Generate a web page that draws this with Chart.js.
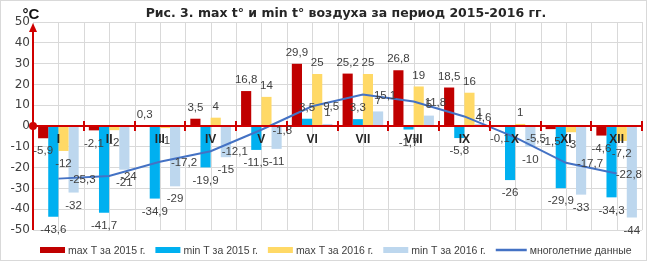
<!DOCTYPE html>
<html><head><meta charset="utf-8">
<script src="https://cdn.jsdelivr.net/npm/chart.js@4.4.1/dist/chart.umd.min.js"></script>
<style>html,body{margin:0;padding:0;background:#fff}#wrap{width:647px;height:261px;position:relative}</style>
</head><body><div id="wrap"><canvas id="c" width="647" height="261"></canvas></div>
<script>
const months = ['I','II','III','IV','V','VI','VII','VIII','IX','X','XI','XII'];
const max2015 = [-5.9, -2.1, 0.3, 3.5, 16.8, 29.9, 25.2, 26.8, 18.5, -0.1, -1.5, -4.6];
const min2015 = [-43.6, -41.7, -34.9, -19.9, -11.5, 3.5, 3.3, -1.7, -5.8, -26, -29.9, -34.3];
const max2016 = [-12, -2, -1, 4, 14, 25, 25, 19, 16, 1, -3, -7.2];
const min2016 = [-32, -21, -29, -15, -11, 1, 7, 5, 1, -10, -33, -44];
const longTerm = [-25.3, -24, -17.2, -12.1, -1.8, 9.5, 15.1, 11.8, 4.6, -5.5, -17.7, -22.8];
const yMin = -50, yMax = 50, yStep = 5;
const seriesNames = ['max T за 2015 г.', 'min T за 2015 г.', 'max T за 2016 г.', 'min T за 2016 г.', 'многолетние данные'];
const titleText = 'Рис. 3. max t° и min t° воздуха за период 2015-2016 гг.';
const unitText = '°C';

const colors = ['#C00000', '#00B0F0', '#FFD966', '#BDD7EE', '#4472C4'];
const fmt = v => String(v).replace('.', ',');
const LABEL_FONT = '11.5px "Liberation Sans", Arial, sans-serif';

const decor = {
  id: 'decor',
  beforeDatasetsDraw(chart) {
    const {ctx, chartArea: ca, scales: {x}} = chart;
    const cw = x.getPixelForValue(1) - x.getPixelForValue(0);
    ctx.save();
    ctx.strokeStyle = '#D9D9D9';
    ctx.lineWidth = 1;
    for (let i = 0; i < months.length; i++) {
      const cx = x.getPixelForValue(i);
      [cx - cw / 2, cx, cx + cw / 2].forEach(px => {
        const xx = Math.round(px) + 0.5;
        ctx.beginPath(); ctx.moveTo(xx, ca.top); ctx.lineTo(xx, ca.bottom); ctx.stroke();
      });
    }
    ctx.restore();
  },
  afterDatasetsDraw(chart) {
    const {ctx, chartArea: ca, scales: {x, y}} = chart;
    const cw = x.getPixelForValue(1) - x.getPixelForValue(0);
    const y0 = y.getPixelForValue(0);
    ctx.save();
    ctx.strokeStyle = '#D00000';
    ctx.fillStyle = '#D00000';
    ctx.lineWidth = 2;
    ctx.beginPath(); ctx.moveTo(ca.left, y0); ctx.lineTo(ca.right, y0); ctx.stroke();
    for (let i = 1; i <= months.length; i++) {
      const bx = Math.round(x.getPixelForValue(0) - cw / 2 + i * cw);
      ctx.beginPath(); ctx.moveTo(bx, y0 - 5); ctx.lineTo(bx, y0 + 5); ctx.stroke();
    }
    ctx.beginPath(); ctx.moveTo(ca.left, ca.bottom); ctx.lineTo(ca.left, ca.top + 6); ctx.stroke();
    ctx.beginPath();
    ctx.moveTo(ca.left, ca.top + 1);
    ctx.lineTo(ca.left - 4, ca.top + 10);
    ctx.lineTo(ca.left + 4, ca.top + 10);
    ctx.closePath(); ctx.fill();
    ctx.beginPath(); ctx.arc(ca.left, y0, 4, 0, Math.PI * 2); ctx.fill();

    ctx.fillStyle = '#262626';
    ctx.font = 'bold 12px "Liberation Sans", Arial, sans-serif';
    ctx.textAlign = 'center'; ctx.textBaseline = 'middle';
    months.forEach((m, i) => ctx.fillText(m, x.getPixelForValue(i), y0 + 14));

    ctx.font = LABEL_FONT;
    ctx.fillStyle = '#404040';
    chart.data.datasets.forEach((ds, di) => {
      const meta = chart.getDatasetMeta(di);
      meta.data.forEach((el, i) => {
        const v = ds.data[i];
        const t = fmt(v);
        if (ds.type === 'line') {
          ctx.textAlign = 'left';
          let tx = el.x + 11;
          const w = ctx.measureText(t).width;
          if (tx + w > chart.width - 5) tx = chart.width - 5 - w;
          ctx.fillText(t, tx, el.y + 1);
        } else {
          ctx.textAlign = 'center';
          ctx.fillText(t, el.x, v >= 0 ? el.y - 11 : el.y + 13);
        }
      });
    });
    ctx.restore();
  },
  afterDraw(chart) {
    const {ctx} = chart;
    ctx.save();
    ctx.fillStyle = '#262626';
    ctx.font = 'bold 12.5px "DejaVu Sans", sans-serif';
    ctx.textAlign = 'center'; ctx.textBaseline = 'middle';
    ctx.fillText(titleText, 346, 14);
    ctx.font = 'bold 15px "Liberation Sans", Arial, sans-serif';
    ctx.fillStyle = '#111';
    ctx.fillText(unitText, 31, 15);
    ctx.font = '10.5px "Liberation Sans", Arial, sans-serif';
    ctx.textAlign = 'left';
    let lx = 40;
    const ly = 250;
    chart.data.datasets.forEach((ds, di) => {
      if (ds.type === 'line') {
        ctx.strokeStyle = ds.borderColor; ctx.lineWidth = 2.5;
        ctx.beginPath(); ctx.moveTo(lx, ly); ctx.lineTo(lx + 31, ly); ctx.stroke();
        lx += 34;
      } else {
        ctx.fillStyle = ds.backgroundColor;
        ctx.fillRect(lx, ly - 3, 25, 6);
        lx += 28;
      }
      ctx.fillStyle = '#404040';
      ctx.fillText(ds.label, lx, ly + 1);
      lx += ctx.measureText(ds.label).width + 10;
    });
    ctx.strokeStyle = '#D9D9D9'; ctx.lineWidth = 1;
    ctx.strokeRect(0.5, 0.5, chart.width - 1, chart.height - 1);
    ctx.restore();
  }
};

new Chart(document.getElementById('c'), {
  type: 'bar',
  data: {
    labels: months,
    datasets: [
      {label: seriesNames[0], data: max2015, backgroundColor: colors[0], order: 1},
      {label: seriesNames[1], data: min2015, backgroundColor: colors[1], order: 1},
      {label: seriesNames[2], data: max2016, backgroundColor: colors[2], order: 1},
      {label: seriesNames[3], data: min2016, backgroundColor: colors[3], order: 1},
      {type: 'line', label: seriesNames[4], data: longTerm, borderColor: colors[4], backgroundColor: colors[4], borderWidth: 2, pointRadius: 0, tension: 0, order: 0}
    ]
  },
  options: {
    responsive: false, animation: false, devicePixelRatio: 1,
    layout: {padding: {left: 0, top: 22, right: 5, bottom: 31}},
    plugins: {legend: {display: false}, title: {display: false}, tooltip: {enabled: false}},
    datasets: {bar: {categoryPercentage: 0.8, barPercentage: 1}},
    scales: {
      x: {display: false, offset: true},
      y: {
        min: yMin, max: yMax,
        ticks: {stepSize: yStep, color: '#404040', font: {family: '"DejaVu Sans"', size: 12}, padding: 3},
        grid: {color: '#D9D9D9', drawTicks: false},
        border: {display: false},
        afterFit(s) { s.width = 33; }
      }
    }
  },
  plugins: [decor]
});
</script>
</body></html>
